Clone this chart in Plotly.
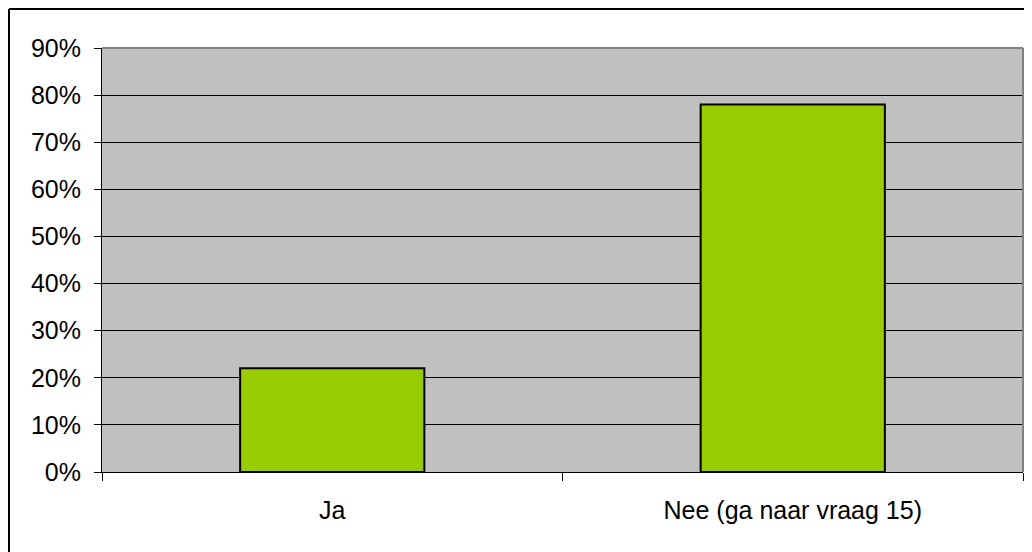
import plotly.graph_objects as go

categories = ["Ja", "Nee (ga naar vraag 15)"]
values = [0.22, 0.78]
y_ticks = [0, 0.1, 0.2, 0.3, 0.4, 0.5, 0.6, 0.7, 0.8, 0.9]
y_tick_labels = ["0%", "10%", "20%", "30%", "40%", "50%", "60%", "70%", "80%", "90%"]

# page has an 8px body margin; compensate so the plot lands where the reference has it
W, H = 1024, 544
L, R, T, B = 94, 9, 40, 80
pw, ph = W - L - R, H - T - B

fig = go.Figure()
fig.add_trace(go.Bar(
    x=categories, y=values, width=0.4,
    marker=dict(color="#99CC00", line=dict(color="#000000", width=2)),
    hoverinfo="skip",
))

font = dict(family="Liberation Sans, Arial, sans-serif", size=25, color="#000000")

fig.update_layout(
    width=W, height=H,
    margin=dict(l=L, r=R, t=T, b=B, pad=0),
    paper_bgcolor="#FFFFFF",
    plot_bgcolor="#C0C0C0",
    showlegend=False,
    font=font,
    xaxis=dict(
        type="category", tickson="boundaries", ticks="outside", ticklen=8,
        tickcolor="#000000", tickwidth=1,
        showline=True, linecolor="#000000", linewidth=1,
        showgrid=False, tickfont=font, range=[-0.5, 1.5],
        ticklabelstandoff=16,
    ),
    yaxis=dict(
        range=[0, 0.9], tickvals=y_ticks, ticktext=y_tick_labels,
        ticks="outside", ticklen=7, tickcolor="#000000", tickwidth=1,
        showline=True, linecolor="#000000", linewidth=1,
        showgrid=True, gridcolor="#000000", gridwidth=1,
        zeroline=False, tickfont=font, ticklabelstandoff=8,
    ),
)

# plot-area border (top and right, gray)
fig.add_shape(type="line", xref="paper", yref="paper", x0=0, x1=1, y0=1, y1=1,
              line=dict(color="#808080", width=2), layer="above")
fig.add_shape(type="line", xref="paper", yref="paper", x0=1, x1=1, y0=0, y1=1,
              line=dict(color="#808080", width=2), layer="above")

# outer chart border (left and top visible)
bx = (1 - L) / pw
by = 1 + (T - 1) / ph
fig.add_shape(type="line", xref="paper", yref="paper", x0=bx, x1=bx, y0=by, y1=-B / ph - 0.05,
              line=dict(color="#000000", width=2))
fig.add_shape(type="line", xref="paper", yref="paper", x0=bx, x1=1 + R / pw + 0.05, y0=by, y1=by,
              line=dict(color="#000000", width=2))

fig.write_html("out.html")
